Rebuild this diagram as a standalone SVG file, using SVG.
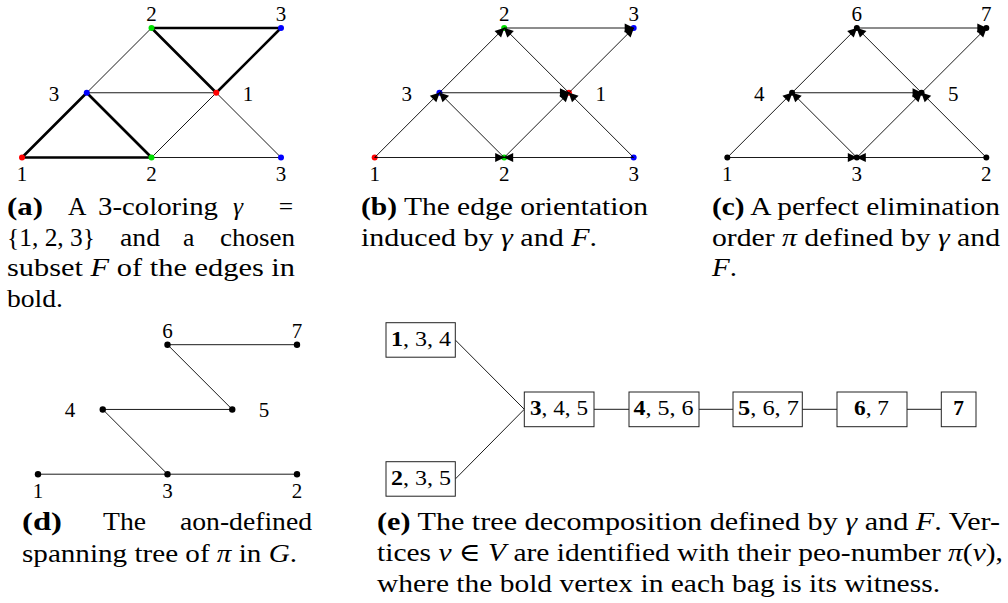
<svg xmlns="http://www.w3.org/2000/svg" width="1008" height="603" viewBox="0 0 1008 603">
<style>
text{font-family:"Liberation Serif","Times New Roman","DejaVu Serif",serif;fill:#000}
.lbl{font-size:21px;text-anchor:middle}
.cap{font-size:25.5px}
.bx{font-size:21.5px}
.b{font-weight:bold}
.i{font-style:italic}
.e{stroke:#000;stroke-width:0.9;fill:none}
.eb{stroke:#000;stroke-width:2.6;stroke-linecap:round;fill:none}
.ar{stroke:#000;stroke-width:0.9;fill:none;marker-end:url(#arr)}
.box{fill:#fff;stroke:#222;stroke-width:1}
.red{fill:#ff0000}.grn{fill:#00e000}.blu{fill:#0000ff}.blk{fill:#000}
</style>
<defs>
<marker id="arr" markerUnits="userSpaceOnUse" viewBox="-11 -6 12 12" markerWidth="12" markerHeight="12" refX="0" refY="0" orient="auto">
<path d="M0.5,0 L-9,-4.6 L-9,4.6 Z" fill="#000"/>
</marker>
</defs>

<!-- Panel (a) -->
<g id="panel-a">
<g id="a-edges">
<line class="e" x1="151.5" y1="28" x2="86.75" y2="92.75"/>
<line class="e" x1="86.75" y1="92.75" x2="216.25" y2="92.75"/>
<line class="e" x1="216.25" y1="92.75" x2="151.5" y2="157.5"/>
<line class="e" x1="216.25" y1="92.75" x2="281" y2="157.5"/>
<line class="e" x1="151.5" y1="157.5" x2="281" y2="157.5"/>
<line class="eb" x1="151.5" y1="28" x2="281" y2="28"/>
<line class="eb" x1="151.5" y1="28" x2="216.25" y2="92.75"/>
<line class="eb" x1="216.25" y1="92.75" x2="281" y2="28"/>
<line class="eb" x1="86.75" y1="92.75" x2="22" y2="157.5"/>
<line class="eb" x1="86.75" y1="92.75" x2="151.5" y2="157.5"/>
<line class="eb" x1="22" y1="157.5" x2="151.5" y2="157.5"/>
</g>
<g id="a-T"><circle class="grn" cx="151.5" cy="28" r="3"/><text class="lbl" x="151.5" y="21">2</text></g>
<g id="a-TR"><circle class="blu" cx="281" cy="28" r="3"/><text class="lbl" x="281" y="21">3</text></g>
<g id="a-ML"><circle class="blu" cx="86.75" cy="92.75" r="3"/><text class="lbl" x="54" y="100.5">3</text></g>
<g id="a-MR"><circle class="red" cx="216.25" cy="92.75" r="3"/><text class="lbl" x="248" y="100.5">1</text></g>
<g id="a-BL"><circle class="red" cx="22" cy="157.5" r="3"/><text class="lbl" x="22" y="181">1</text></g>
<g id="a-BM"><circle class="grn" cx="151.5" cy="157.5" r="3"/><text class="lbl" x="151.5" y="181">2</text></g>
<g id="a-BR"><circle class="blu" cx="281" cy="157.5" r="3"/><text class="lbl" x="281" y="181">3</text></g>
</g>

<!-- Panel (b) -->
<g id="panel-b" transform="translate(352.67,0)">
<g id="b-T"><circle class="grn" cx="151.5" cy="28" r="3"/><text class="lbl" x="151.5" y="21">2</text></g>
<g id="b-TR"><circle class="blu" cx="281" cy="28" r="3"/><text class="lbl" x="281" y="21">3</text></g>
<g id="b-ML"><circle class="blu" cx="86.75" cy="92.75" r="3"/><text class="lbl" x="54" y="100.5">3</text></g>
<g id="b-MR"><circle class="red" cx="216.25" cy="92.75" r="3"/><text class="lbl" x="248" y="100.5">1</text></g>
<g id="b-BL"><circle class="red" cx="22" cy="157.5" r="3"/><text class="lbl" x="22" y="181">1</text></g>
<g id="b-BM"><circle class="grn" cx="151.5" cy="157.5" r="3"/><text class="lbl" x="151.5" y="181">2</text></g>
<g id="b-BR"><circle class="blu" cx="281" cy="157.5" r="3"/><text class="lbl" x="281" y="181">3</text></g>
<g id="b-edges">
<line class="ar" x1="22" y1="157.5" x2="86.75" y2="92.75"/>
<line class="ar" x1="86.75" y1="92.75" x2="151.5" y2="28"/>
<line class="ar" x1="151.5" y1="28" x2="281" y2="28"/>
<line class="ar" x1="216.25" y1="92.75" x2="151.5" y2="28"/>
<line class="ar" x1="216.25" y1="92.75" x2="281" y2="28"/>
<line class="ar" x1="86.75" y1="92.75" x2="216.25" y2="92.75"/>
<line class="ar" x1="151.5" y1="157.5" x2="86.75" y2="92.75"/>
<line class="ar" x1="151.5" y1="157.5" x2="216.25" y2="92.75"/>
<line class="ar" x1="281" y1="157.5" x2="216.25" y2="92.75"/>
<line class="ar" x1="22" y1="157.5" x2="151.5" y2="157.5"/>
<line class="ar" x1="281" y1="157.5" x2="151.5" y2="157.5"/>
</g>
</g>

<!-- Panel (c) -->
<g id="panel-c" transform="translate(705.33,0)">
<g id="c-T"><circle class="blk" cx="151.5" cy="28" r="3"/><text class="lbl" x="151.5" y="21">6</text></g>
<g id="c-TR"><circle class="blk" cx="281" cy="28" r="3"/><text class="lbl" x="281" y="21">7</text></g>
<g id="c-ML"><circle class="blk" cx="86.75" cy="92.75" r="3"/><text class="lbl" x="54" y="100.5">4</text></g>
<g id="c-MR"><circle class="blk" cx="216.25" cy="92.75" r="3"/><text class="lbl" x="248" y="100.5">5</text></g>
<g id="c-BL"><circle class="blk" cx="22" cy="157.5" r="3"/><text class="lbl" x="22" y="181">1</text></g>
<g id="c-BM"><circle class="blk" cx="151.5" cy="157.5" r="3"/><text class="lbl" x="151.5" y="181">3</text></g>
<g id="c-BR"><circle class="blk" cx="281" cy="157.5" r="3"/><text class="lbl" x="281" y="181">2</text></g>
<g id="c-edges">
<line class="ar" x1="22" y1="157.5" x2="86.75" y2="92.75"/>
<line class="ar" x1="86.75" y1="92.75" x2="151.5" y2="28"/>
<line class="ar" x1="151.5" y1="28" x2="281" y2="28"/>
<line class="ar" x1="216.25" y1="92.75" x2="151.5" y2="28"/>
<line class="ar" x1="216.25" y1="92.75" x2="281" y2="28"/>
<line class="ar" x1="86.75" y1="92.75" x2="216.25" y2="92.75"/>
<line class="ar" x1="151.5" y1="157.5" x2="86.75" y2="92.75"/>
<line class="ar" x1="151.5" y1="157.5" x2="216.25" y2="92.75"/>
<line class="ar" x1="281" y1="157.5" x2="216.25" y2="92.75"/>
<line class="ar" x1="22" y1="157.5" x2="151.5" y2="157.5"/>
<line class="ar" x1="281" y1="157.5" x2="151.5" y2="157.5"/>
</g>
</g>

<!-- Panel (d) -->
<g id="panel-d" transform="translate(16,316.7)">
<g id="d-edges">
<line class="e" x1="151.5" y1="28" x2="281" y2="28"/>
<line class="e" x1="151.5" y1="28" x2="216.25" y2="92.75"/>
<line class="e" x1="86.75" y1="92.75" x2="216.25" y2="92.75"/>
<line class="e" x1="86.75" y1="92.75" x2="151.5" y2="157.5"/>
<line class="e" x1="22" y1="157.5" x2="151.5" y2="157.5"/>
<line class="e" x1="151.5" y1="157.5" x2="281" y2="157.5"/>
</g>
<g id="d-6"><circle class="blk" cx="151.5" cy="28" r="3.2"/><text class="lbl" x="151.5" y="21">6</text></g>
<g id="d-7"><circle class="blk" cx="281" cy="28" r="3.2"/><text class="lbl" x="281" y="21">7</text></g>
<g id="d-4"><circle class="blk" cx="86.75" cy="92.75" r="3.2"/><text class="lbl" x="54" y="100.5">4</text></g>
<g id="d-5"><circle class="blk" cx="216.25" cy="92.75" r="3.2"/><text class="lbl" x="248" y="100.5">5</text></g>
<g id="d-1"><circle class="blk" cx="22" cy="157.5" r="3.2"/><text class="lbl" x="22" y="181">1</text></g>
<g id="d-3"><circle class="blk" cx="151.5" cy="157.5" r="3.2"/><text class="lbl" x="151.5" y="181">3</text></g>
<g id="d-2"><circle class="blk" cx="281" cy="157.5" r="3.2"/><text class="lbl" x="281" y="181">2</text></g>
</g>

<!-- Panel (e) -->
<g id="panel-e">
<g id="e-edges">
<line class="e" x1="455.3" y1="340" x2="524.3" y2="409.3"/>
<line class="e" x1="455.3" y1="479" x2="524.3" y2="409.3"/>
<line class="e" x1="594" y1="409.3" x2="629" y2="409.3"/>
<line class="e" x1="699" y1="409.3" x2="733" y2="409.3"/>
<line class="e" x1="802" y1="409.3" x2="837" y2="409.3"/>
<line class="e" x1="907" y1="409.3" x2="941" y2="409.3"/>
</g>
<g id="bag-134"><rect class="box" x="386" y="322.7" width="69.3" height="34.5"/><text class="bx" x="391" y="345.5" textLength="60" lengthAdjust="spacingAndGlyphs"><tspan class="b">1</tspan>, 3, 4</text></g>
<g id="bag-235"><rect class="box" x="386" y="461.7" width="69.3" height="34.5"/><text class="bx" x="391" y="484.5" textLength="60" lengthAdjust="spacingAndGlyphs"><tspan class="b">2</tspan>, 3, 5</text></g>
<g id="bag-345"><rect class="box" x="524.3" y="392" width="69.7" height="34.7"/><text class="bx" x="530" y="415" textLength="58" lengthAdjust="spacingAndGlyphs"><tspan class="b">3</tspan>, 4, 5</text></g>
<g id="bag-456"><rect class="box" x="629" y="392" width="70" height="34.7"/><text class="bx" x="633.5" y="415" textLength="60" lengthAdjust="spacingAndGlyphs"><tspan class="b">4</tspan>, 5, 6</text></g>
<g id="bag-567"><rect class="box" x="733" y="392" width="69.3" height="34.7"/><text class="bx" x="738" y="415" textLength="61" lengthAdjust="spacingAndGlyphs"><tspan class="b">5</tspan>, 6, 7</text></g>
<g id="bag-67"><rect class="box" x="837" y="392" width="70" height="34.7"/><text class="bx" x="854" y="415" textLength="35" lengthAdjust="spacingAndGlyphs"><tspan class="b">6</tspan>, 7</text></g>
<g id="bag-7"><rect class="box" x="941.3" y="392" width="34.7" height="34.7"/><text class="bx b" x="958.6" y="415" text-anchor="middle">7</text></g>
</g>

<!-- Captions -->
<g id="captions">
<text class="cap b" x="7" y="215" textLength="36" lengthAdjust="spacingAndGlyphs">(a)</text>
<text class="cap" x="68" y="215">A</text>
<text class="cap" x="98" y="215" textLength="120" lengthAdjust="spacingAndGlyphs">3-coloring</text>
<text class="cap i" x="233" y="215">γ</text>
<text class="cap" x="286" y="215" text-anchor="middle">=</text>
<text class="cap" x="7" y="245.5" textLength="88" lengthAdjust="spacingAndGlyphs">{1, 2, 3}</text>
<text class="cap" x="120" y="245.5" textLength="40" lengthAdjust="spacingAndGlyphs">and</text>
<text class="cap" x="183" y="245.5">a</text>
<text class="cap" x="220" y="245.5" textLength="75" lengthAdjust="spacingAndGlyphs">chosen</text>
<text class="cap" x="7" y="276" textLength="288" lengthAdjust="spacingAndGlyphs">subset <tspan class="i">F</tspan> of the edges in</text>
<text class="cap" x="7" y="306.5" textLength="56" lengthAdjust="spacingAndGlyphs">bold.</text>

<text class="cap" x="361" y="215" textLength="287" lengthAdjust="spacingAndGlyphs"><tspan class="b">(b)</tspan> The edge orientation</text>
<text class="cap" x="361" y="245.5" textLength="236" lengthAdjust="spacingAndGlyphs">induced by <tspan class="i">γ</tspan> and <tspan class="i">F</tspan>.</text>

<text class="cap" x="712" y="215" textLength="288" lengthAdjust="spacingAndGlyphs"><tspan class="b">(c)</tspan> A perfect elimination</text>
<text class="cap" x="712" y="245.5" textLength="288" lengthAdjust="spacingAndGlyphs">order <tspan class="i">π</tspan> defined by <tspan class="i">γ</tspan> and</text>
<text class="cap" x="712" y="276" textLength="25" lengthAdjust="spacingAndGlyphs"><tspan class="i">F</tspan>.</text>

<text class="cap b" x="22" y="530" textLength="40" lengthAdjust="spacingAndGlyphs">(d)</text>
<text class="cap" x="103" y="530" textLength="43" lengthAdjust="spacingAndGlyphs">The</text>
<text class="cap" x="180" y="530" textLength="132" lengthAdjust="spacingAndGlyphs">aon-defined</text>
<text class="cap" x="22" y="561.5" textLength="275" lengthAdjust="spacingAndGlyphs">spanning tree of <tspan class="i">π</tspan> in <tspan class="i">G</tspan>.</text>

<text class="cap" x="377" y="529.5" textLength="623" lengthAdjust="spacingAndGlyphs"><tspan class="b">(e)</tspan> The tree decomposition defined by <tspan class="i">γ</tspan> and <tspan class="i">F</tspan>. Ver-</text>
<text class="cap" x="377" y="561" textLength="626" lengthAdjust="spacingAndGlyphs">tices <tspan class="i">v</tspan> ∈ <tspan class="i">V</tspan> are identified with their peo-number <tspan class="i">π</tspan>(<tspan class="i">v</tspan>),</text>
<text class="cap" x="377" y="592" textLength="563" lengthAdjust="spacingAndGlyphs">where the bold vertex in each bag is its witness.</text>
</g>
</svg>
